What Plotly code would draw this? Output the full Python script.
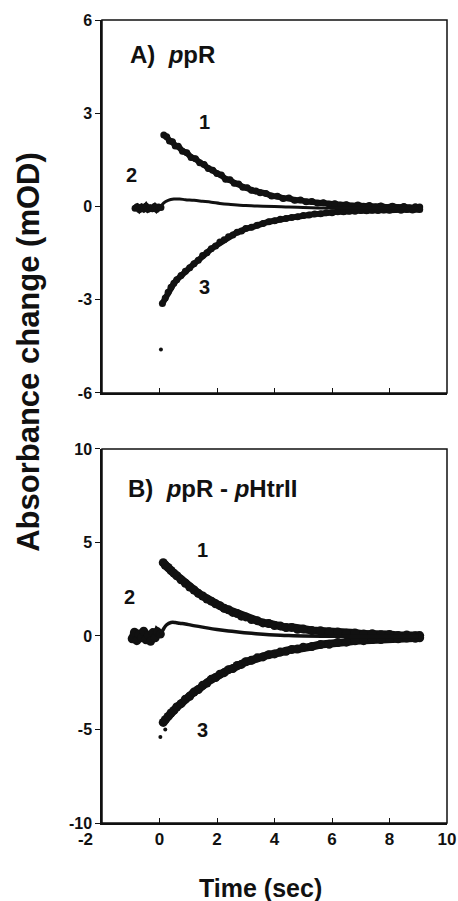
import plotly.graph_objects as go
from plotly.subplots import make_subplots

# ---------------- data ----------------
# Panel A: ppR
a1_t = [0.15,0.25,0.35,0.45,0.55,0.65,0.8,0.95,1.1,1.25,1.4,1.55,1.7,1.85,2.0,2.15,2.3,2.45,2.6,2.75,2.9,3.05,3.2,3.35,3.5,3.7,3.9,4.1,4.3,4.5,4.7,4.9,5.1,5.3,5.5,5.7,5.9,6.1,6.3,6.5,6.7,6.9,7.1,7.3,7.5,7.7,7.9,8.1,8.3,8.5,8.7,8.9,9.05]
a1_y = [2.30,2.24,2.11,2.08,1.95,1.94,1.78,1.73,1.58,1.54,1.41,1.35,1.22,1.17,1.06,1.01,0.88,0.86,0.75,0.72,0.62,0.60,0.52,0.50,0.44,0.42,0.34,0.33,0.26,0.27,0.20,0.21,0.15,0.16,0.11,0.12,0.08,0.09,0.05,0.06,0.02,0.05,0.01,0.03,-0.01,0.02,-0.03,0.01,-0.03,0.0,-0.04,-0.01,-0.02]

a2pre_t = [-0.85,-0.78,-0.70,-0.62,-0.55,-0.47,-0.40,-0.32,-0.25,-0.17,-0.10,-0.03,0.05]
a2pre_y = [-0.06,-0.01,-0.10,-0.02,-0.08,0.01,-0.09,-0.04,-0.07,0.00,-0.09,-0.02,-0.03]
a2_t = [0.05,0.15,0.3,0.5,0.7,0.9,1.2,1.5,1.8,2.1,2.4,2.7,3.0,3.3,3.6,4.0,4.5,5.0,6.0,7.0,8.0,9.0]
a2_y = [0.0,0.12,0.20,0.24,0.24,0.22,0.20,0.17,0.14,0.10,0.07,0.05,0.03,0.02,0.01,0.0,-0.02,-0.03,-0.05,-0.05,-0.05,-0.05]

a3_t = [0.1,0.2,0.3,0.4,0.5,0.6,0.75,0.9,1.05,1.2,1.35,1.5,1.65,1.8,1.95,2.1,2.25,2.4,2.55,2.7,2.85,3.0,3.2,3.4,3.6,3.8,4.0,4.2,4.4,4.6,4.8,5.0,5.2,5.4,5.6,5.8,6.0,6.2,6.4,6.6,6.8,7.0,7.2,7.4,7.6,7.8,8.0,8.2,8.4,8.6,8.8,9.05]
a3_y = [-3.12,-2.94,-2.76,-2.60,-2.47,-2.36,-2.22,-2.08,-1.97,-1.84,-1.73,-1.58,-1.49,-1.36,-1.27,-1.14,-1.07,-0.97,-0.92,-0.83,-0.79,-0.71,-0.67,-0.60,-0.55,-0.49,-0.46,-0.41,-0.39,-0.35,-0.33,-0.29,-0.27,-0.24,-0.23,-0.20,-0.20,-0.17,-0.17,-0.15,-0.15,-0.13,-0.14,-0.12,-0.13,-0.11,-0.12,-0.10,-0.12,-0.10,-0.11,-0.10]
a_out_t = [0.05]
a_out_y = [-4.6]

# Panel B: ppR - pHtrII
b1_t = [0.13,0.2,0.3,0.4,0.5,0.6,0.75,0.9,1.05,1.2,1.35,1.5,1.65,1.8,1.95,2.1,2.25,2.4,2.55,2.7,2.85,3.0,3.2,3.4,3.6,3.8,4.0,4.2,4.4,4.6,4.8,5.0,5.3,5.6,5.9,6.2,6.5,6.8,7.1,7.4,7.7,8.0,8.3,8.6,8.9,9.05]
b1_y = [3.92,3.78,3.66,3.50,3.36,3.22,3.00,2.82,2.62,2.46,2.28,2.14,1.98,1.86,1.72,1.62,1.48,1.40,1.26,1.20,1.06,1.02,0.88,0.82,0.70,0.67,0.56,0.54,0.45,0.46,0.36,0.37,0.29,0.28,0.22,0.21,0.15,0.16,0.10,0.12,0.06,0.08,0.03,0.05,0.01,0.02]

b2pre_t = [-0.95,-0.87,-0.79,-0.71,-0.63,-0.55,-0.47,-0.39,-0.31,-0.23,-0.15,-0.07,0.03]
b2pre_y = [-0.15,0.20,-0.25,0.10,-0.10,0.25,-0.20,0.05,-0.28,0.18,-0.10,0.22,0.10]
b2_t = [0.05,0.15,0.25,0.4,0.55,0.7,0.9,1.1,1.4,1.7,2.0,2.4,2.8,3.2,3.6,4.0,4.5,5.0,6.0,7.0,8.0,9.0]
b2_y = [0.10,0.40,0.60,0.72,0.72,0.68,0.64,0.58,0.50,0.42,0.35,0.27,0.20,0.14,0.09,0.05,0.02,0.0,-0.02,-0.03,-0.03,-0.03]

b3_t = [0.13,0.2,0.3,0.4,0.5,0.6,0.75,0.9,1.05,1.2,1.35,1.5,1.65,1.8,1.95,2.1,2.25,2.4,2.55,2.7,2.85,3.0,3.2,3.4,3.6,3.8,4.0,4.2,4.4,4.6,4.8,5.0,5.3,5.6,5.9,6.2,6.5,6.8,7.1,7.4,7.7,8.0,8.3,8.6,8.9,9.05]
b3_y = [-4.62,-4.48,-4.30,-4.12,-3.98,-3.80,-3.62,-3.38,-3.22,-3.00,-2.86,-2.64,-2.52,-2.32,-2.22,-2.04,-1.96,-1.80,-1.74,-1.58,-1.52,-1.38,-1.30,-1.17,-1.12,-1.00,-0.96,-0.86,-0.82,-0.72,-0.70,-0.60,-0.56,-0.46,-0.44,-0.35,-0.33,-0.26,-0.25,-0.19,-0.19,-0.14,-0.15,-0.11,-0.12,-0.10]
b_out_t = [0.03,0.2]
b_out_y = [-5.4,-5.0]

x_tickvals = [-2, 0, 2, 4, 6, 8, 10]
x_ticktext = ["-2", "0", "2", "4", "6", "8", "10"]
a_tickvals = [-6, -3, 0, 3, 6]
a_ticktext = ["-6", "-3", "0", "3", "6"]
b_tickvals = [-10, -5, 0, 5, 10]
b_ticktext = ["-10", "-5", "0", "5", "10"]

# ---------------- figure ----------------
FONT = "Liberation Sans"
INK = "#111111"

fig = make_subplots(rows=2, cols=1, shared_xaxes=False)

def band(t, y, row, lw, ms):
    fig.add_trace(go.Scatter(x=t, y=y, mode="lines+markers",
                             line=dict(color=INK, width=lw),
                             marker=dict(color=INK, size=ms),
                             showlegend=False, hoverinfo="skip"), row=row, col=1)

def thin(t, y, row, lw):
    fig.add_trace(go.Scatter(x=t, y=y, mode="lines",
                             line=dict(color=INK, width=lw, shape="spline"),
                             showlegend=False, hoverinfo="skip"), row=row, col=1)

def dots(t, y, row, ms):
    fig.add_trace(go.Scatter(x=t, y=y, mode="markers",
                             marker=dict(color=INK, size=ms),
                             showlegend=False, hoverinfo="skip"), row=row, col=1)

band(a1_t, a1_y, 1, 6, 7)
band(a3_t, a3_y, 1, 6, 7)
band(a2pre_t, a2pre_y, 1, 6, 7)
thin(a2_t, a2_y, 1, 3)
dots(a_out_t, a_out_y, 1, 4)

band(b1_t, b1_y, 2, 8, 9)
band(b3_t, b3_y, 2, 8, 9)
band(b2pre_t, b2pre_y, 2, 8, 9)
thin(b2_t, b2_y, 2, 3.5)
dots(b_out_t, b_out_y, 2, 4)

axis_common = dict(showline=True, linecolor=INK, linewidth=1.5,
                   showgrid=False, zeroline=False, tickcolor=INK, ticklen=5,
                   tickwidth=1.2, automargin=False)

# the "-2" label sits a little left of the axis corner in the original
x_ticktext_shown = [x_ticktext[0] + "\u00a0" * 7] + x_ticktext[1:]

fig.update_xaxes(range=[-2, 10], tickvals=x_tickvals, ticks="inside",
                 **axis_common)
fig.update_xaxes(showticklabels=False, row=1, col=1)
fig.update_xaxes(showticklabels=True, row=2, col=1, ticktext=x_ticktext_shown,
                 ticklabeloverflow="allow",
                 tickfont=dict(family=FONT, size=17, color=INK, weight="bold"))
fig.update_yaxes(ticks="outside", **axis_common,
                 tickfont=dict(family=FONT, size=16, color=INK, weight="bold"))
fig.update_yaxes(range=[-6, 6], tickvals=a_tickvals, ticktext=a_ticktext, row=1, col=1)
fig.update_yaxes(range=[-10, 10], tickvals=b_tickvals, ticktext=b_ticktext, row=2, col=1)

fig.update_layout(
    width=458, height=901,
    margin=dict(l=102, r=11, t=20, b=78, autoexpand=False),
    paper_bgcolor="white", plot_bgcolor="white",
    xaxis=dict(domain=[0, 1], anchor="y"),
    yaxis=dict(domain=[0.5355, 1.0], anchor="x"),
    xaxis2=dict(domain=[0, 1], anchor="y2"),
    yaxis2=dict(domain=[0.0, 0.4658], anchor="x2"),
)

# box frames around both panels
for xr, yr in (("x", "y"), ("x2", "y2")):
    fig.add_shape(type="rect", xref=f"{xr} domain", yref=f"{yr} domain",
                  x0=0, x1=1, y0=0, y1=1, line=dict(color=INK, width=1.5),
                  fillcolor="rgba(0,0,0,0)", layer="above")

lab = dict(family=FONT, size=20, color=INK, weight="bold")
ann = []
def add(text, x, y, xr, yr, font, xanchor="center", **kw):
    ann.append(dict(text=text, x=x, y=y, xref=xr, yref=yr, showarrow=False,
                    font=font, xanchor=xanchor, yanchor="middle", **kw))

panel_font = dict(family=FONT, size=24, color=INK, weight="bold")
add("A)  <i>p</i>pR", -1.1, 4.89, "x", "y", panel_font, xanchor="left")
add("B)  <i>p</i>pR - <i>p</i>HtrII", -1.15, 7.9, "x2", "y2", panel_font, xanchor="left")

add("1", 1.55, 2.72, "x", "y", lab)
add("2", -0.97, 1.01, "x", "y", lab)
add("3", 1.55, -2.59, "x", "y", lab)
add("1", 1.48, 4.6, "x2", "y2", lab)
add("2", -1.03, 2.09, "x2", "y2", lab)
add("3", 1.48, -5.03, "x2", "y2", lab)

add("Time (sec)", 0.46, -0.081, "paper", "paper",
    dict(family=FONT, size=25, color=INK, weight="bold"))
add("Absorbance change (mOD)", -0.212, 0.5866, "paper", "paper",
    dict(family=FONT, size=31, color=INK, weight="bold"), textangle=-90)

fig.update_layout(annotations=ann)

fig.write_html("out.html", config={"displayModeBar": False},
               post_script="document.body.style.margin='0';"
                           "document.body.style.overflow='hidden';")
